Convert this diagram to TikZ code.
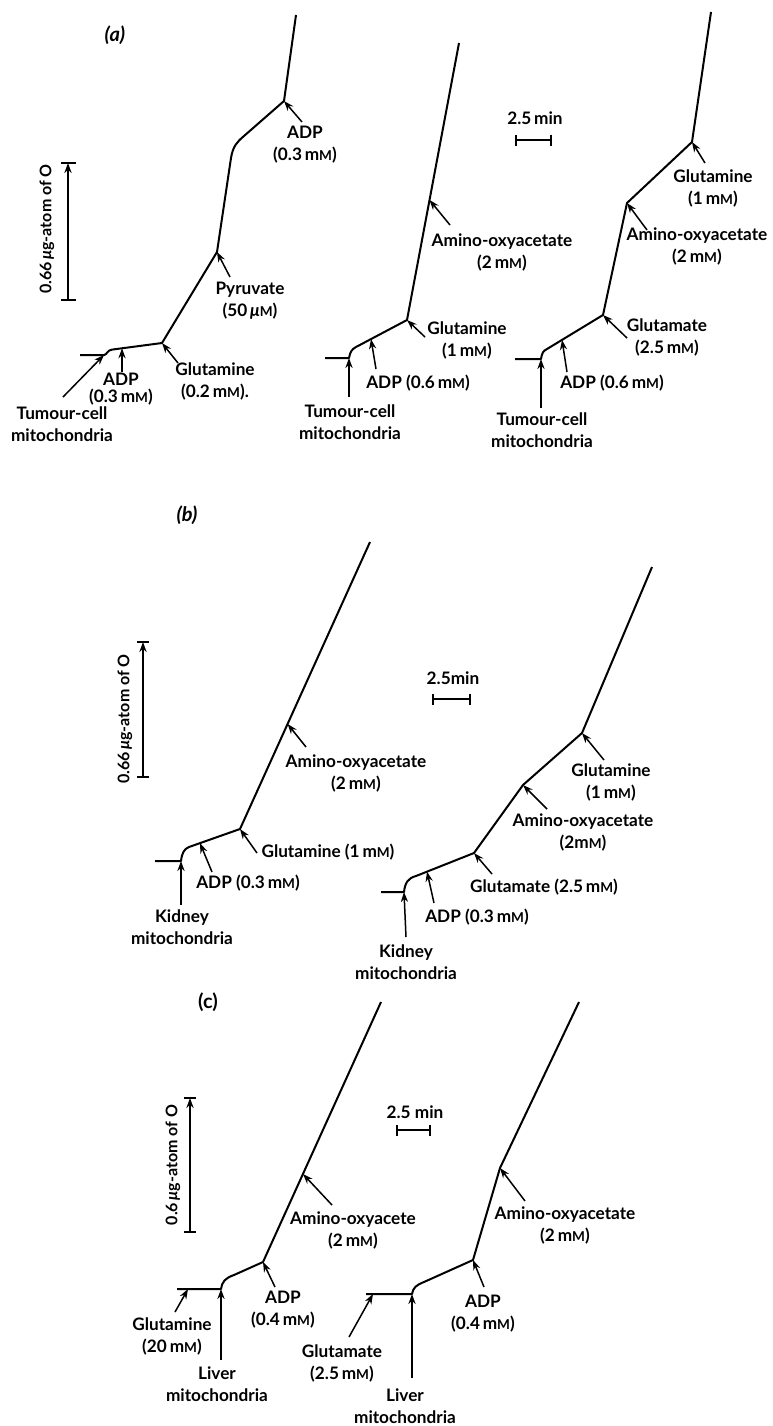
\documentclass[tikz,border=0pt]{standalone}
\usepackage{fontspec}
\setmainfont{Lato}
\usetikzlibrary{arrows.meta}
\newcommand\smM{{\fontsize{6.8}{6.8}\selectfont M}}
\newcommand\mMu{m\smM}
\begin{document}
\begin{tikzpicture}[x=0.5pt,y=-0.5pt,
  trace/.style={line width=1pt,line join=round},
  conn/.style={line width=0.75pt,-{Stealth[length=5pt,width=3.6pt]}},
  tick/.style={line width=0.9pt},
  tbar/.style={line width=0.9pt,{Bar[width=5.5pt]}-{Bar[width=5.5pt]}},
  lbl/.style={font=\fontsize{8.6}{11}\selectfont\bfseries,align=center,inner sep=0pt},
  ttl/.style={font=\fontsize{10}{11}\selectfont\bfseries,inner sep=0pt},
  vlbl/.style={font=\fontsize{8}{9}\selectfont\bfseries,inner sep=0pt,rotate=90}]
\useasboundingbox (0,0) rectangle (772,1426);
% ================= (a) =================
\node[ttl] (aTitle) at (115,35) {\textit{(a)}};
% scale bar
\coordinate (saB) at (68,300); \coordinate (saT) at (68,163);
\coordinate (saBl) at (61,300); \coordinate (saBr) at (76,300);
\coordinate (saTl) at (61,163); \coordinate (saTr) at (76,163);
\draw[conn,line width=0.9pt] (saB) -- (saT);
\draw[tick] (saBl) -- (saBr); \draw[tick] (saTl) -- (saTr);
\node[vlbl] (saL) at (47,229) {0.66\,\textit{μ}g-atom of O};
% trace a1
\coordinate (a1s) at (80,355); \coordinate (a1k) at (104,355);
\coordinate (a1adp) at (122,348.3); \coordinate (a1glu) at (162,343);
\coordinate (a1pyr) at (217,252); \coordinate (a1b) at (231,158);
\coordinate (a1c) at (244,136); \coordinate (a1adp2) at (284,101);
\coordinate (a1top) at (296,15);
\draw[trace] (a1s) -- (a1k) .. controls (107,355) and (107,350) .. (112,349.6) -- (a1glu) -- (a1pyr) -- (a1b) .. controls (233,146) and (237,142) .. (a1c) -- (a1adp2) -- (a1top);
\node[lbl] (a1tumL) at (62,424) {Tumour-cell\\mitochondria};
\coordinate (a1tumA) at (63,397); \draw[conn] (a1tumA) -- (a1k);
\node[lbl,font=\fontsize{8.6}{8.2}\selectfont\bfseries] (a1adpL) at (121,389) {ADP\\(0.3\,\mMu)};
\coordinate (a1adpA) at (122,372); \draw[conn] (a1adpA) -- (a1adp);
\node[lbl] (a1gluL) at (215,381) {Glutamine\\(0.2\,\mMu).};
\coordinate (a1gluA) at (178,363); \draw[conn] (a1gluA) -- (a1glu);
\node[lbl] (a1pyrL) at (250,301) {Pyruvate\\(50\,\textit{μ}\smM)};
\coordinate (a1pyrA) at (230,277); \draw[conn] (a1pyrA) -- (a1pyr);
\node[lbl] (a1adp2L) at (305,145) {ADP\\(0.3\,\mMu)};
\coordinate (a1adp2A) at (302,122); \draw[conn] (a1adp2A) -- (a1adp2);
% trace a2
\coordinate (a2s) at (325,358); \coordinate (a2k) at (349,358);
\coordinate (a2adp) at (371,339.1); \coordinate (a2glu) at (407,320);
\coordinate (a2ami) at (429.5,200); \coordinate (a2top) at (459,43);
\draw[trace] (a2s) -- (a2k) .. controls (350,352) and (352,349) .. (356,347) -- (a2glu) -- (a2top);
\node[lbl] (a2tumL) at (350,422) {Tumour-cell\\mitochondria};
\coordinate (a2tumA) at (349,397); \draw[conn] (a2tumA) -- (a2k);
\node[lbl] (a2adpL) at (418,383) {ADP (0.6\,\mMu)};
\coordinate (a2adpA) at (376,369); \draw[conn] (a2adpA) -- (a2adp);
\node[lbl] (a2gluL) at (467,340) {Glutamine\\(1\,\mMu)};
\coordinate (a2gluA) at (425,337); \draw[conn] (a2gluA) -- (a2glu);
\node[lbl] (a2amiL) at (502,252) {Amino-oxyacetate\\(2\,\mMu)};
\coordinate (a2amiA) at (450,225); \draw[conn] (a2amiA) -- (a2ami);
% time bar a
\coordinate (ta1) at (515,140); \coordinate (ta2) at (552,140);
\draw[tbar] (ta1) -- (ta2);
\node[lbl] (taL) at (535,118) {2.5\,min};
% trace a3
\coordinate (a3s) at (515,359); \coordinate (a3k) at (541,359);
\coordinate (a3adp) at (562,339.9); \coordinate (a3glt) at (603,315);
\coordinate (a3ami) at (627,203); \coordinate (a3gln) at (692,142);
\coordinate (a3top) at (711,12);
\draw[trace] (a3s) -- (a3k) .. controls (542,353) and (543,351) .. (547,349) -- (a3glt) -- (a3ami) -- (a3gln) -- (a3top);
\node[lbl] (a3tumL) at (542,430) {Tumour-cell\\mitochondria};
\coordinate (a3tumA) at (541,408); \draw[conn] (a3tumA) -- (a3k);
\node[lbl] (a3adpL) at (612,383) {ADP (0.6\,\mMu)};
\coordinate (a3adpA) at (567,372); \draw[conn] (a3adpA) -- (a3adp);
\node[lbl] (a3gltL) at (667,337) {Glutamate\\(2.5\,\mMu)};
\coordinate (a3gltA) at (627,338); \draw[conn] (a3gltA) -- (a3glt);
\node[lbl] (a3amiL) at (697,246) {Amino-oxyacetate\\(2\,\mMu)};
\coordinate (a3amiA) at (647,230); \draw[conn] (a3amiA) -- (a3ami);
\node[lbl] (a3glnL) at (713,188) {Glutamine\\(1\,\mMu)};
\coordinate (a3glnA) at (705,163); \draw[conn] (a3glnA) -- (a3gln);
% ================= (b) =================
\node[ttl] (bTitle) at (187,515) {\textit{(b)}};
\coordinate (sbB) at (143,777); \coordinate (sbT) at (143,642);
\coordinate (sbBl) at (137,777); \coordinate (sbBr) at (149,777);
\coordinate (sbTl) at (137,642); \coordinate (sbTr) at (149,642);
\draw[conn,line width=0.9pt] (sbB) -- (sbT);
\draw[tick] (sbBl) -- (sbBr); \draw[tick] (sbTl) -- (sbTr);
\node[vlbl] (sbL) at (125,719) {0.66\,\textit{μ}g-atom of O};
% trace b1
\coordinate (b1s) at (155,861); \coordinate (b1k) at (181,861);
\coordinate (b1adp) at (200,843.1); \coordinate (b1glu) at (240,829);
\coordinate (b1ami) at (287.6,724); \coordinate (b1top) at (370,542);
\draw[trace] (b1s) -- (b1k) .. controls (182,853) and (184,849) .. (189,847) -- (b1glu) -- (b1top);
\node[lbl] (b1kidL) at (182,927) {Kidney\\mitochondria};
\coordinate (b1kidA) at (181,905); \draw[conn] (b1kidA) -- (b1k);
\node[lbl] (b1adpL) at (248,883) {ADP (0.3\,\mMu)};
\coordinate (b1adpA) at (212,872); \draw[conn] (b1adpA) -- (b1adp);
\node[lbl] (b1gluL) at (328,852) {Glutamine (1\,\mMu)};
\coordinate (b1gluA) at (257,853); \draw[conn] (b1gluA) -- (b1glu);
\node[lbl] (b1amiL) at (356,773) {Amino-oxyacetate\\(2\,\mMu)};
\coordinate (b1amiA) at (306,747); \draw[conn] (b1amiA) -- (b1ami);
% time bar b
\coordinate (tb1) at (432,699); \coordinate (tb2) at (471,699);
\draw[tbar] (tb1) -- (tb2);
\node[lbl] (tbL) at (453,678) {2.5min};
% trace b2
\coordinate (b2s) at (381,892); \coordinate (b2k) at (404,892);
\coordinate (b2adp) at (427,871.6); \coordinate (b2glt) at (474,853);
\coordinate (b2ami) at (523,785); \coordinate (b2gln) at (582,733);
\coordinate (b2top) at (652,567);
\draw[trace] (b2s) -- (b2k) .. controls (405,883) and (408,878) .. (416,876) -- (b2glt) -- (b2ami) -- (b2gln) -- (b2top);
\node[lbl] (b2kidL) at (406,962) {Kidney\\mitochondria};
\coordinate (b2kidA) at (406,937); \draw[conn] (b2kidA) -- (b2k);
\node[lbl] (b2adpL) at (477,917) {ADP (0.3\,\mMu)};
\coordinate (b2adpA) at (434,903); \draw[conn] (b2adpA) -- (b2adp);
\node[lbl] (b2gltL) at (544,887) {Glutamate (2.5\,\mMu)};
\coordinate (b2gltA) at (492,874); \draw[conn] (b2gltA) -- (b2glt);
\node[lbl] (b2amiL) at (583,832) {Amino-oxyacetate\\(2\mMu)};
\coordinate (b2amiA) at (547,809); \draw[conn] (b2amiA) -- (b2ami);
\node[lbl] (b2glnL) at (611,782) {Glutamine\\(1\,\mMu)};
\coordinate (b2glnA) at (604,760); \draw[conn] (b2glnA) -- (b2gln);
% ================= (c) =================
\node[ttl] (cTitle) at (208,1002) {(c)};
\coordinate (scB) at (190,1232); \coordinate (scT) at (190,1098);
\coordinate (scBl) at (184,1232); \coordinate (scBr) at (196,1232);
\coordinate (scTl) at (184,1098); \coordinate (scTr) at (196,1098);
\draw[conn,line width=0.9pt] (scB) -- (scT);
\draw[tick] (scBl) -- (scBr); \draw[tick] (scTl) -- (scTr);
\node[vlbl] (scL) at (173,1165) {0.6\,\textit{μ}g-atom of O};
% time bar c
\coordinate (tc1) at (396,1130); \coordinate (tc2) at (431,1130);
\draw[tbar] (tc1) -- (tc2);
\node[lbl] (tcL) at (415,1112) {2.5 min};
% trace c1
\coordinate (c1s) at (177,1289); \coordinate (c1gln) at (188,1289);
\coordinate (c1k) at (221,1289); \coordinate (c1adp) at (263,1262);
\coordinate (c1ami) at (303,1174); \coordinate (c1top) at (381,1002);
\draw[trace] (c1s) -- (c1k) .. controls (222,1282) and (225,1278) .. (234,1275) -- (c1adp) -- (c1top);
\node[lbl] (c1glnL) at (172,1336) {Glutamine\\(20\,\mMu)};
\coordinate (c1glnA) at (175,1312); \draw[conn] (c1glnA) -- (c1gln);
\node[lbl] (c1livL) at (217,1384) {Liver\\mitochondria};
\coordinate (c1livA) at (221,1360); \draw[conn] (c1livA) -- (c1k);
\node[lbl] (c1adpL) at (283,1310) {ADP\\(0.4\,\mMu)};
\coordinate (c1adpA) at (275,1287); \draw[conn] (c1adpA) -- (c1adp);
\node[lbl] (c1amiL) at (353,1230) {Amino-oxyacete\\(2\,\mMu)};
\coordinate (c1amiA) at (332,1205); \draw[conn] (c1amiA) -- (c1ami);
% trace c2
\coordinate (c2s) at (366,1294); \coordinate (c2glt) at (373,1294);
\coordinate (c2k) at (412,1294); \coordinate (c2adp) at (473,1260);
\coordinate (c2ami) at (500,1168); \coordinate (c2top) at (579,1002);
\draw[trace] (c2s) -- (c2k) .. controls (413,1288) and (416,1285) .. (424,1282) -- (c2adp) -- (c2ami) -- (c2top);
\node[lbl] (c2gltL) at (342,1363) {Glutamate\\(2.5\,\mMu)};
\coordinate (c2gltA) at (349,1337); \draw[conn] (c2gltA) -- (c2glt);
\node[lbl] (c2livL) at (405,1406) {Liver\\mitochondria};
\coordinate (c2livA) at (412,1378); \draw[conn] (c2livA) -- (c2k);
\node[lbl] (c2adpL) at (483,1314) {ADP\\(0.4\,\mMu)};
\coordinate (c2adpA) at (484,1287); \draw[conn] (c2adpA) -- (c2adp);
\node[lbl] (c2amiL) at (565,1225) {Amino-oxyacetate\\(2\,\mMu)};
\coordinate (c2amiA) at (525,1201); \draw[conn] (c2amiA) -- (c2ami);
\end{tikzpicture}
\end{document}
